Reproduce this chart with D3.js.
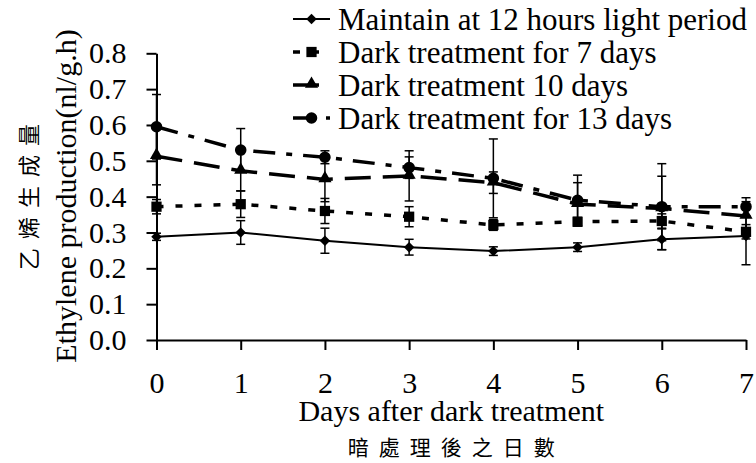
<!DOCTYPE html>
<html>
<head>
<meta charset="utf-8">
<script src="https://cdn.jsdelivr.net/npm/d3@7"></script>
<style>
  body { margin: 0; background: #fff; }
  text { fill: #000; }
</style>
</head>
<body>
<svg id="chart"></svg>
<script>
// data
const days = [0, 1, 2, 3, 4, 5, 6, 7];
const seriesNames = [
    "Maintain at 12 hours light period",
    "Dark treatment for 7 days",
    "Dark treatment 10 days",
    "Dark treatment for 13 days"
];
const light12h = [0.288, 0.300, 0.277, 0.259, 0.248, 0.259, 0.281, 0.290];
const dark7 = [0.372, 0.379, 0.360, 0.344, 0.321, 0.330, 0.332, 0.302];
const dark10 = [0.513, 0.472, 0.448, 0.458, 0.439, 0.379, 0.367, 0.346];
const dark13 = [0.595, 0.530, 0.510, 0.481, 0.451, 0.390, 0.372, 0.372];
const err12h = [0.010, 0.033, 0.035, 0.022, 0.012, 0.012, 0.029, 0.080];
const err7 = [0.020, 0.037, 0.035, 0.028, 0.015, 0.012, 0.020, 0.020];
const err10 = [0.080, 0.056, 0.062, 0.070, 0.030, 0.060, 0.090, 0.040];
const err13 = [0.090, 0.060, 0.018, 0.030, 0.110, 0.070, 0.120, 0.025];
const yTicks = [0, 0.1, 0.2, 0.3, 0.4, 0.5, 0.6, 0.7, 0.8];

const width = 756, height = 463;
const serif = "'Liberation Serif', 'Times New Roman', serif";
const cjk = "'Noto Sans CJK TC', 'Noto Sans CJK SC', sans-serif";

const svg = d3.select("#chart")
    .attr("width", width)
    .attr("height", height)
    .attr("font-family", serif);

const x = d3.scaleLinear().domain([0, 7]).range([156.5, 746]);
const y = d3.scaleLinear().domain([0, 0.8]).range([340, 53.3]);

// line styles per series
const series = [
    { name: seriesNames[0], values: light12h, err: err12h, dash: null, sw: 2, shape: "diamond" },
    { name: seriesNames[1], values: dark7, err: err7, dash: "7,12", sw: 3.5, shape: "square" },
    { name: seriesNames[2], values: dark10, err: err10, dash: "26,12", sw: 3.5, shape: "triangle" },
    { name: seriesNames[3], values: dark13, err: err13, dash: "22,11,6,11", sw: 3.5, shape: "circle" }
];

function markerPath(shape) {
    if (shape === "diamond") return d3.symbol(d3.symbolSquare, 55)();
    if (shape === "square") return d3.symbol(d3.symbolSquare, 105)();
    if (shape === "triangle") return d3.symbol(d3.symbolTriangle, 75)();
    return d3.symbol(d3.symbolCircle, 105)();
}
function markerTransform(shape, px, py) {
    if (shape === "diamond") return `translate(${px},${py}) rotate(45)`;
    if (shape === "triangle") return `translate(${px},${py - 1})`;
    return `translate(${px},${py})`;
}

// axes
const xAxis = svg.append("g")
    .attr("transform", `translate(0,${y(0)})`)
    .call(d3.axisBottom(x).tickValues(days).tickSize(10).tickSizeOuter(0).tickFormat(d3.format("d")));
xAxis.selectAll("text").attr("y", 53).attr("dy", null);

const yAxis = svg.append("g")
    .attr("transform", `translate(${x(0)},0)`)
    .call(d3.axisLeft(y).tickValues(yTicks).tickSize(10).tickSizeOuter(0).tickPadding(20).tickFormat(d3.format(".1f")));

[xAxis, yAxis].forEach(a => {
    a.attr("font-family", serif).attr("font-size", 30);
    a.select(".domain").attr("stroke", "#000").attr("stroke-width", 2);
    a.selectAll(".tick line").attr("stroke", "#000").attr("stroke-width", 2);
});

// error bars
const capW = 4.5;
series.forEach(s => {
    const g = svg.append("g");
    days.forEach((d, i) => {
        const px = x(d), lo = y(s.values[i] - s.err[i]), hi = y(s.values[i] + s.err[i]);
        g.append("line").attr("x1", px).attr("x2", px).attr("y1", lo).attr("y2", hi)
            .attr("stroke", "#000").attr("stroke-width", 1.5);
        [lo, hi].forEach(cy => g.append("line")
            .attr("x1", px - capW).attr("x2", px + capW).attr("y1", cy).attr("y2", cy)
            .attr("stroke", "#000").attr("stroke-width", 1.5));
    });
});

// series lines and markers
const line = d3.line().x((d, i) => x(days[i])).y(d => y(d));
series.forEach(s => {
    svg.append("path")
        .datum(s.values)
        .attr("d", line)
        .attr("fill", "none")
        .attr("stroke", "#000")
        .attr("stroke-width", s.sw)
        .attr("stroke-dasharray", s.dash);
    svg.append("g").selectAll("path")
        .data(s.values)
        .enter().append("path")
        .attr("d", markerPath(s.shape))
        .attr("transform", (d, i) => markerTransform(s.shape, x(days[i]), y(d)))
        .attr("fill", "#000");
});

// legend
const legend = svg.append("g");
series.forEach((s, i) => {
    const ly = 19 + i * 33;
    legend.append("line")
        .attr("x1", 293).attr("x2", 330).attr("y1", ly).attr("y2", ly)
        .attr("stroke", "#000").attr("stroke-width", s.sw)
        .attr("stroke-dasharray", s.dash);
    legend.append("path")
        .attr("d", markerPath(s.shape))
        .attr("transform", markerTransform(s.shape, 311.5, ly))
        .attr("fill", "#000");
    legend.append("text")
        .attr("x", 338).attr("y", ly)
        .attr("dy", "0.35em")
        .attr("font-size", 31)
        .text(s.name);
});

// axis titles
svg.append("text")
    .attr("x", x(3.5)).attr("y", 421)
    .attr("text-anchor", "middle")
    .attr("font-size", 30)
    .text("Days after dark treatment");

svg.append("text")
    .attr("x", x(3.5) + 5).attr("y", 455)
    .attr("text-anchor", "middle")
    .attr("font-family", cjk)
    .attr("font-size", 21)
    .attr("letter-spacing", 10)
    .text("暗處理後之日數");

svg.append("text")
    .attr("transform", "translate(76,196) rotate(-90)")
    .attr("text-anchor", "middle")
    .attr("font-size", 30)
    .text("Ethylene production(nl/g.h)");

svg.append("text")
    .attr("transform", "translate(27,192.5) rotate(-90)")
    .attr("text-anchor", "middle")
    .attr("dominant-baseline", "central")
    .attr("font-family", cjk)
    .attr("font-size", 22)
    .attr("letter-spacing", 9)
    .text("乙烯生成量");
</script>
</body>
</html>
